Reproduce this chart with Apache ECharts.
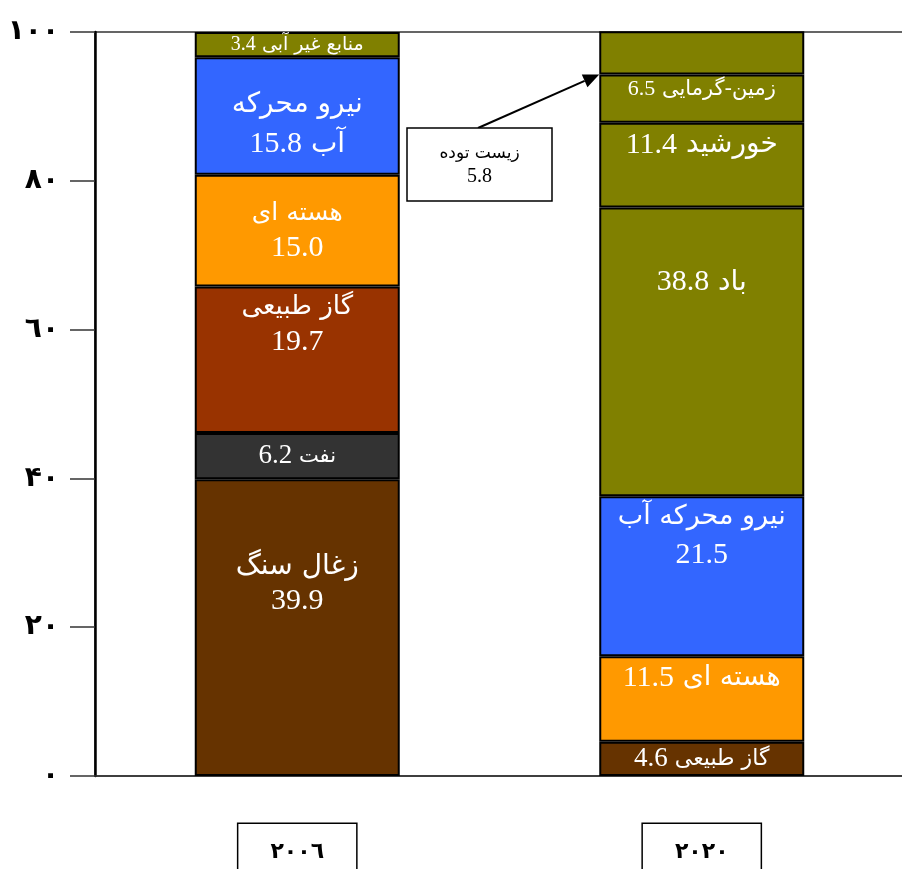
<!DOCTYPE html>
<html>
<head>
<meta charset="utf-8">
<script src="https://cdn.jsdelivr.net/npm/echarts@6/dist/echarts.min.js"></script>
<style>html,body{margin:0;padding:0;background:#fff}#chart{width:902px;height:869px}</style>
</head>
<body>
<div id="chart"></div>
<script>
// ---- data ----
const years = ['۲۰۰٦', '۲۰۲۰'];
const yTickLabels = ['۰', '۲۰', '۴۰', '٦٠', '۸۰', '۱۰۰'];
const names2006 = ['زغال سنگ', 'نفت', 'گاز طبیعی', 'هسته ای', 'نیرو محرکه آب', 'منابع غیر آبی'];
const values2006 = [39.9, 6.2, 19.7, 15.0, 15.8, 3.4];
const names2020 = ['گاز طبیعی', 'هسته ای', 'نیرو محرکه آب', 'باد', 'خورشید', 'زمین-گرمایی', 'زیست توده'];
const values2020 = [4.6, 11.5, 21.5, 38.8, 11.4, 6.5, 5.8];

// ---- styles ----
const colors2006 = ['#663300', '#333333', '#993300', '#FF9900', '#3366FF', '#808000'];
const colors2020 = ['#663300', '#FF9900', '#3366FF', '#808000', '#808000', '#808000', '#808000'];
// label layout: mode, arabic size, number size, position, distance, line height
const lab2006 = [
  {mode: 'two', a: 28, n: 30, pos: 'insideTop', dist: 71, lh: 34},
  {mode: 'one', a: 21, n: 27, pos: 'inside'},
  {mode: 'two', a: 26, n: 30, pos: 'insideTop', dist: 3, lh: 35},
  {mode: 'two', a: 25, n: 30, pos: 'inside', lh: 34},
  {mode: 'split', a: 28, n: 30, pos: 'insideTop', dist: 27, lh: 40},
  {mode: 'one', a: 19, n: 20, pos: 'inside'}
];
const lab2020 = [
  {mode: 'one', a: 22, n: 27, pos: 'inside'},
  {mode: 'one', a: 27, n: 30, pos: 'insideTop', dist: 4},
  {mode: 'two', a: 27, n: 30, pos: 'insideTop', dist: 2, lh: 38},
  {mode: 'one', a: 28, n: 30, pos: 'insideTop', dist: 57},
  {mode: 'one', a: 28, n: 30, pos: 'insideTop', dist: 4},
  {mode: 'one', a: 21, n: 22, pos: 'insideTop', dist: 2},
  {mode: 'none'}
];
const AR_FONT = '"DejaVu Sans", "Noto Sans", sans-serif';
const NUM_FONT = '"Liberation Serif", "DejaVu Serif", serif';
const FONT = '"Liberation Serif", "DejaVu Sans", serif';

function labelText(name, v, mode) {
  const s = '{n|' + v.toFixed(1) + '}';
  if (mode === 'two') return '{a|' + name + '}\n' + s;
  if (mode === 'one') return s + ' {a|' + name + '}';
  if (mode === 'split') {
    const w = name.split(' ');
    const last = w.pop();
    return '{a|' + w.join(' ') + '}\n' + s + ' {a|' + last + '}';
  }
  return '';
}
function item(v, name, color, lab) {
  const o = {value: v, itemStyle: {color: color}};
  if (lab.mode === 'none') {
    o.label = {show: false};
  } else {
    const lh = lab.lh || Math.round(lab.n * 1.2);
    o.label = {
      show: true, position: lab.pos, distance: lab.dist == null ? 5 : lab.dist,
      formatter: labelText(name, v, lab.mode),
      color: '#fff', fontSize: lab.a, fontFamily: AR_FONT, lineHeight: lh,
      rich: {
        a: {color: '#fff', fontSize: lab.a, fontFamily: AR_FONT, lineHeight: lh},
        n: {color: '#fff', fontSize: lab.n, fontFamily: NUM_FONT, lineHeight: lh}
      }
    };
  }
  return o;
}

const nLayers = Math.max(values2006.length, values2020.length);
const series = [];
for (let i = 0; i < nLayers; i++) {
  series.push({
    type: 'bar', stack: 'total', barWidth: 205,
    itemStyle: {borderColor: '#000', borderWidth: 2},
    emphasis: {disabled: true},
    data: [
      i < values2006.length ? item(values2006[i], names2006[i], colors2006[i], lab2006[i]) : '-',
      i < values2020.length ? item(values2020[i], names2020[i], colors2020[i], lab2020[i]) : '-'
    ]
  });
}

const chart = echarts.init(document.getElementById('chart'));
chart.setOption({
  animation: false,
  backgroundColor: '#fff',
  grid: {left: 95, right: -2, top: 32, bottom: 93, show: true, borderColor: '#333', borderWidth: 1.5,
    containLabel: false, outerBoundsMode: 'none'},
  xAxis: {
    type: 'category', data: years,
    axisLine: {lineStyle: {color: '#333', width: 1.5}},
    axisTick: {show: false},
    axisLabel: {
      margin: 48, color: '#000', fontSize: 22, fontWeight: 'bold', fontFamily: FONT,
      borderColor: '#000', borderWidth: 1.5, padding: [17, 32, 27, 32], backgroundColor: '#fff',
      verticalAlign: 'top'
    }
  },
  yAxis: {
    type: 'value', min: 0, max: 100, interval: 20,
    splitLine: {show: false},
    axisLine: {show: true, lineStyle: {color: '#000', width: 2.5}},
    axisTick: {show: true, length: 25, lineStyle: {color: '#333', width: 1.5}},
    axisLabel: {
      margin: 36, color: '#000', fontSize: 28, fontWeight: 'bold', fontFamily: FONT,
      formatter: function (v) { return yTickLabels[Math.round(v / 20)]; }
    }
  },
  series: series
});

// annotation for biomass (زیست توده) pointing at its segment
function drawAnnotation() {
  const bw = 205;
  const cx = chart.convertToPixel({xAxisIndex: 0}, years[1]);
  let cum = 0;
  for (let i = 0; i < values2020.length - 1; i++) cum += values2020[i];
  const ty = chart.convertToPixel({yAxisIndex: 0}, cum);
  const tx = cx - bw / 2;
  const box = {x: 407, y: 128, w: 145, h: 73};
  const sx = 478, sy = box.y;
  const ang = Math.atan2(ty - sy, tx - sx);
  const hl = 16, hw = 7;
  const bx = tx - hl * Math.cos(ang), by = ty - hl * Math.sin(ang);
  const px = -Math.sin(ang), py = Math.cos(ang);
  const idx = values2020.length - 1;
  chart.setOption({
    graphic: [
      {type: 'line', shape: {x1: sx, y1: sy, x2: bx, y2: by}, style: {stroke: '#000', lineWidth: 2}, z: 10},
      {type: 'polygon', shape: {points: [[tx, ty], [bx + px * hw, by + py * hw], [bx - px * hw, by - py * hw]]}, style: {fill: '#000'}, z: 10},
      {type: 'rect', shape: {x: box.x, y: box.y, width: box.w, height: box.h}, style: {fill: '#fff', stroke: '#000', lineWidth: 1.5}, z: 10},
      {type: 'text', x: box.x + box.w / 2, y: box.y + box.h / 2 + 1, z: 11,
        style: {text: '{a|' + names2020[idx] + '}\n{n|' + values2020[idx].toFixed(1) + '}', fill: '#000',
          align: 'center', verticalAlign: 'middle',
          rich: {a: {fontSize: 17, fontFamily: AR_FONT, lineHeight: 23, fill: '#000'},
                 n: {fontSize: 20, fontFamily: NUM_FONT, lineHeight: 23, fill: '#000'}}}}
    ]
  });
}
drawAnnotation();
</script>
</body>
</html>
